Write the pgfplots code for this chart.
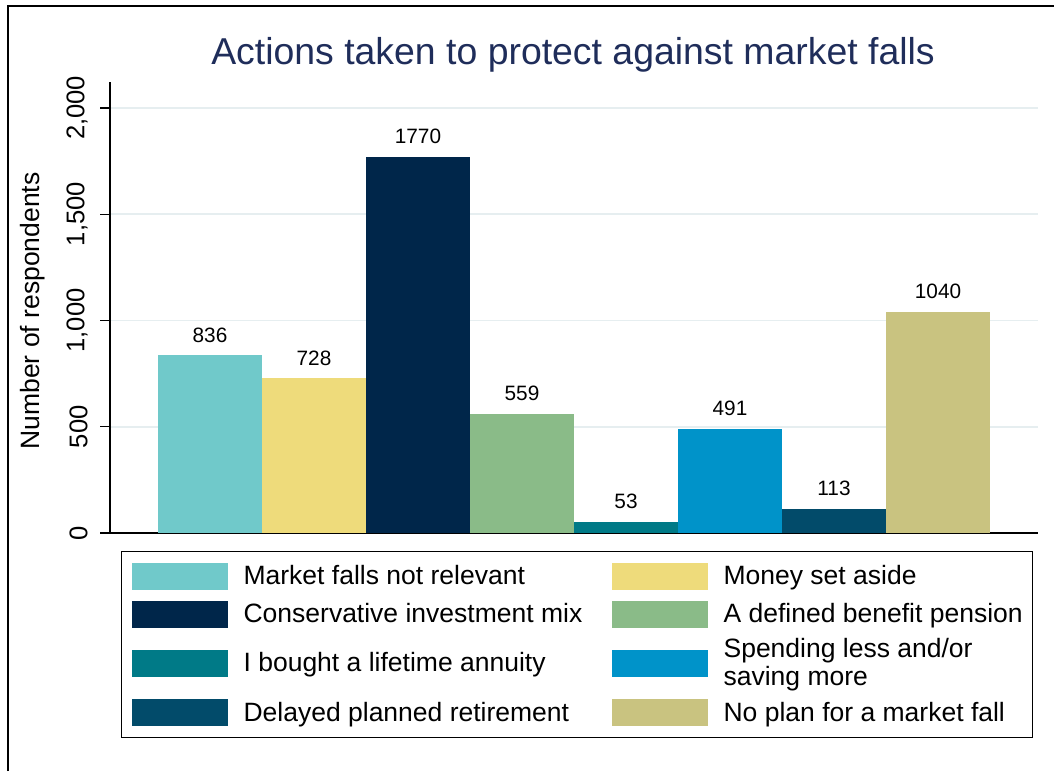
\documentclass[border=0pt]{standalone}
\usepackage{fontspec}
\setmainfont{Liberation Sans}
\usepackage{pgfplots}
\pgfplotsset{compat=1.18}
\definecolor{cA}{RGB}{112,201,202}
\definecolor{cB}{RGB}{238,219,123}
\definecolor{cC}{RGB}{0,38,74}
\definecolor{cD}{RGB}{138,187,136}
\definecolor{cE}{RGB}{0,122,135}
\definecolor{cF}{RGB}{0,147,201}
\definecolor{cG}{RGB}{2,75,106}
\definecolor{cH}{RGB}{201,195,128}
\definecolor{titlec}{RGB}{31,45,90}
\definecolor{gridc}{RGB}{230,238,240}
\pgfplotsset{
  mybar/.style={ybar, bar width=1, bar shift=0pt, draw=none, fill=#1,
    legend image code/.code={\fill[fill=#1] (0pt,-6.75pt) rectangle (48pt,6.75pt);}},
}
\newcommand{\colone}[1]{\makebox[176pt][l]{#1}}
\begin{document}
\begin{tikzpicture}
\useasboundingbox (0,0) rectangle (527pt,385.5pt);
\draw[line width=1pt] (4pt,0pt) -- (4pt,382.5pt) -- (527pt,382.5pt);
\begin{axis}[
  at={(55pt,119pt)}, anchor=south west,
  scale only axis, width=464pt, height=225.5pt,
  xmin=-0.9615, xmax=7.9615, ymin=0, ymax=2122,
  axis x line*=bottom, axis y line*=left,
  xtick=\empty,
  ytick={0,500,1000,1500,2000},
  tick align=outside, major tick length=5pt,
  tick style={black, line width=0.6pt},
  axis line style={black, line width=0.6pt},
  ymajorgrids, grid style={color=gridc, line width=0.9pt},
  /pgf/number format/assume math mode=true,
  yticklabel style={rotate=90, anchor=south, inner sep=0pt, yshift=6pt,
    font=\fontsize{12.8}{14}\selectfont, /pgf/number format/1000 sep={,}},
  nodes near coords={\pgfmathprintnumber[1000 sep={},assume math mode=true]{\pgfplotspointmeta}},
  every node near coord/.append style={font=\fontsize{10.4}{12}\selectfont, black, yshift=3pt},
  legend columns=2,
  legend cell align=left,
  legend style={at={(axis description cs:0.01185,-0.0399)}, anchor=north west,
    draw=black, line width=0.6pt, inner xsep=5pt, inner ysep=5.5pt,
    column sep=8pt, row sep=5.5pt,
    font=\fontsize{13.25}{13.8}\selectfont,
    nodes={inner sep=0pt, align=left}},
]
\addplot[mybar=cA] coordinates {(0,836)};
\addlegendentry{\colone{Market falls not relevant}}
\addplot[mybar=cB] coordinates {(1,728)};
\addlegendentry{Money set aside}
\addplot[mybar=cC] coordinates {(2,1770)};
\addlegendentry{\colone{Conservative investment mix}}
\addplot[mybar=cD] coordinates {(3,559)};
\addlegendentry{A defined benefit pension}
\addplot[mybar=cE] coordinates {(4,53)};
\addlegendentry{\colone{I bought a lifetime annuity}}
\addplot[mybar=cF] coordinates {(5,491)};
\addlegendentry{Spending less and/or\\saving more}
\addplot[mybar=cG] coordinates {(6,113)};
\addlegendentry{\colone{Delayed planned retirement}}
\addplot[mybar=cH] coordinates {(7,1040)};
\addlegendentry{No plan for a market fall}
\end{axis}
\node[font=\fontsize{18.7}{22}\selectfont, text=titlec] at (286.5pt,358pt) {Actions taken to protect against market falls};
\node[rotate=90, font=\fontsize{13.25}{15}\selectfont] at (16.5pt,230pt) {Number of respondents};
\end{tikzpicture}
\end{document}
